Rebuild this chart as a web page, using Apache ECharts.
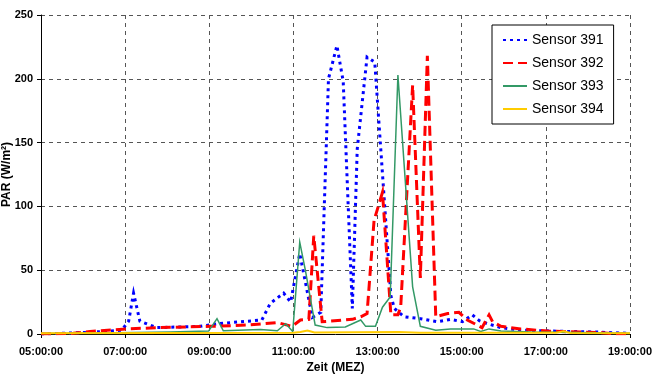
<!DOCTYPE html>
<html><head><meta charset="utf-8">
<script src="https://cdn.jsdelivr.net/npm/echarts@6/dist/echarts.min.js"></script>
<style>html,body{margin:0;padding:0;background:#fff}#c{width:655px;height:381px}</style>
</head><body><div id="c"></div>
<script>
const seriesNames = ['Sensor 391', 'Sensor 392', 'Sensor 393', 'Sensor 394'];
const xTicks = [5, 7, 9, 11, 13, 15, 17, 19];

const times391 = ['05:00','05:56','06:31','06:55','07:05','07:12','07:21','07:45','08:47','09:11','09:54','10:15','10:27','10:46','10:56','11:09','11:27','11:39','11:50','12:02','12:11','12:24','12:31','12:45','12:56','13:19','13:24','13:38','14:01','14:25','14:44','15:01','15:15','15:25','15:37','15:56','16:24','17:11','18:14','19:00'];
const vals391  = [0, 1, 2, 3, 10, 32, 10, 5, 6, 8, 10, 11, 24, 32, 25, 63, 13, 17, 200, 226, 198, 20, 145, 217, 213, 30, 20, 13.5, 12, 9.6, 11.5, 9.6, 15, 10.5, 8, 5, 3, 2.3, 1.5, 0.5];

const times392 = ['05:00','05:46','06:10','07:02','07:50','09:01','09:54','10:37','10:58','11:10','11:22','11:29','11:41','12:24','12:36','12:45','12:55','13:07','13:19','13:29','13:33','13:50','14:01','14:11','14:23','14:40','14:56','15:08','15:29','15:39','15:44','15:56','16:24','17:03','18:19','18:36','19:00'];
const vals392  = [0, 0.5, 2, 4, 5, 6, 7, 9, 6, 11, 11.5, 77, 9.6, 11.5, 13.5, 16, 89, 111, 15, 15, 21, 195, 44, 218, 13.5, 16, 17, 11, 5, 15, 9.6, 6, 4, 2.3, 1, 0.3, 0.2];

const times393 = ['05:00','06:24','08:04','08:59','09:11','09:20','10:13','10:37','10:49','10:59','11:09','11:17','11:31','11:48','12:14','12:36','12:43','12:57','13:07','13:18','13:29','13:50','14:01','14:23','14:44','15:01','15:17','15:27','15:39','15:56','16:39','18:19','19:00'];
const vals393  = [0.3, 0.8, 1.5, 2.3, 12, 2.5, 3.5, 2.5, 8, 2, 72, 50, 7, 5, 5.5, 11, 6, 6, 21, 29, 203, 37, 6, 3, 4, 4, 4, 2, 4, 2.3, 1.5, 1, 0.5];

const times394 = ['05:00','08:00','11:00','11:10','11:20','11:30','13:30','14:00','17:15','17:25','17:35','19:00'];
const vals394  = [0.5, 0.8, 1, 1.5, 2.8, 1.2, 1.5, 1, 1, 2.2, 0.8, 0.5];

function toH(t){const p=t.split(':').map(Number);return p[0]+p[1]/60;}
function zip(ts, vs){return ts.map((t,i)=>[toH(t), vs[i]]);}
function pad(n){return (n<10?'0':'')+n;}

const FONT = 'Liberation Sans, Arial, sans-serif';
const chart = echarts.init(document.getElementById('c'), null, {renderer:'canvas'});
const styles = [
  {color:'#0000FF', width:3, type:[3,4]},
  {color:'#FF0000', width:3, type:[10,5]},
  {color:'#339966', width:1.5, type:'solid'},
  {color:'#FFCC00', width:2, type:'solid'}
];
const datas = [zip(times391, vals391), zip(times392, vals392), zip(times393, vals393), zip(times394, vals394)];

chart.setOption({
  animation:false,
  backgroundColor:'#fff',
  grid:{left:41, right:25, top:15, bottom:47, containLabel:false, outerBoundsMode:'none'},
  legend:{
    orient:'vertical', left:492, top:25,
    backgroundColor:'#fff', borderColor:'#000', borderWidth:1,
    padding:[8,10,8,10], itemGap:9, itemWidth:24, itemHeight:14,
    itemStyle:{opacity:0},
    textStyle:{fontFamily:FONT, fontSize:14, color:'#000'},
    data:seriesNames
  },
  xAxis:{
    type:'value', min:xTicks[0], max:xTicks[xTicks.length-1], interval:2,
    name:'Zeit (MEZ)', nameLocation:'middle', nameGap:28, nameMoveOverlap:false,
    nameTextStyle:{fontFamily:FONT, fontSize:12, fontWeight:'bold', color:'#000'},
    axisLine:{lineStyle:{color:'#000', width:1}},
    axisTick:{show:true, length:4, lineStyle:{color:'#000'}},
    axisLabel:{fontFamily:FONT, fontSize:11, fontWeight:'bold', color:'#000', margin:12,
      formatter:v=>pad(v)+':00:00'},
    splitLine:{show:true, lineStyle:{color:'#555', type:[4,4], width:1}}
  },
  yAxis:{
    type:'value', min:0, max:250, interval:50,
    name:'PAR (W/m²)', nameLocation:'middle', nameGap:28, nameRotate:90, nameMoveOverlap:false,
    nameTextStyle:{fontFamily:FONT, fontSize:12, fontWeight:'bold', color:'#000'},
    axisLine:{show:true, lineStyle:{color:'#000', width:1}},
    axisTick:{show:true, length:4, lineStyle:{color:'#000'}},
    axisLabel:{fontFamily:FONT, fontSize:11, fontWeight:'bold', color:'#000', margin:8},
    splitLine:{show:true, lineStyle:{color:'#555', type:[4,4], width:1}}
  },
  series: seriesNames.map((n,i)=>({
    name:n, type:'line', data:datas[i], symbol:'none', showSymbol:false,
    itemStyle:{color:styles[i].color},
    lineStyle:{color:styles[i].color, width:styles[i].width, type:styles[i].type, cap:'butt', join:'miter'},
    z:2+i
  }))
});
</script></body></html>
